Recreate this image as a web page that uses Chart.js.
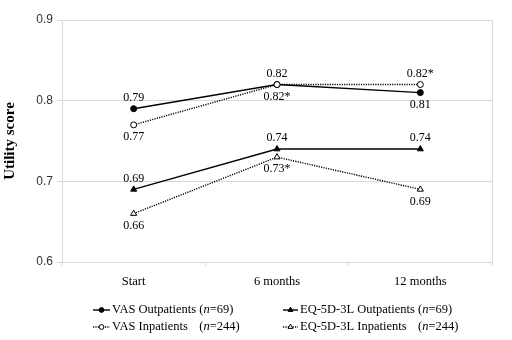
<!DOCTYPE html>
<html>
<head>
<meta charset="utf-8">
<script src="https://cdn.jsdelivr.net/npm/chart.js@4"></script>
<style>
  html, body { margin: 0; padding: 0; background: #fff; }
  #wrap { width: 512px; height: 340px; }
</style>
</head>
<body>
<div id="wrap"><canvas id="c" width="512" height="340"></canvas></div>
<script>
// Time points
const timepoints = ['Start', '6 months', '12 months'];

// Mean utility scores per group
const vasOutpatients = [0.79, 0.82, 0.81];
const vasInpatients = [0.77, 0.82, 0.82];
const eqOutpatients = [0.69, 0.74, 0.74];
const eqInpatients = [0.66, 0.73, 0.69];

// Value labels (asterisk marks a significant difference)
const vasOutLabels = ['0.79', '0.82', '0.81'];
const vasInLabels = ['0.77', '0.82*', '0.82*'];
const eqOutLabels = ['0.69', '0.74', '0.74'];
const eqInLabels = ['0.66', '0.73*', '0.69'];

// Where each value label sits relative to its point
const vasOutSides = ['above', 'above', 'below'];
const vasInSides = ['below', 'below', 'above'];
const eqOutSides = ['above', 'above', 'above'];
const eqInSides = ['below', 'below', 'below'];

// Y axis ticks
const yTicks = [0.6, 0.7, 0.8, 0.9];

// Legend entries: name and group size
const legendNames = ['VAS Outpatients', 'VAS Inpatients', 'EQ-5D-3L Outpatients', 'EQ-5D-3L Inpatients'];
const legendSizes = ['69', '244', '69', '244'];

const SERIF = '"Liberation Serif", "Times New Roman", serif';
const SANS = '"Liberation Sans", Arial, sans-serif';

function series(data, labels, sides, pointStyle, filled, dotted, radius) {
  return {
    data: data,
    valueLabels: labels,
    labelSides: sides,
    borderColor: '#000',
    borderWidth: 1.4,
    borderDash: dotted ? [1.2, 1.2] : [],
    pointStyle: pointStyle,
    pointRadius: radius,
    pointBorderWidth: 1,
    pointBorderColor: '#000',
    pointBackgroundColor: filled ? '#000' : '#fff',
    fill: false,
    tension: 0
  };
}

const datasets = [
  series(vasInpatients, vasInLabels, vasInSides, 'circle', false, true, 3),
  series(eqInpatients, eqInLabels, eqInSides, 'triangle', false, true, 3.5),
  series(vasOutpatients, vasOutLabels, vasOutSides, 'circle', true, false, 3),
  series(eqOutpatients, eqOutLabels, eqOutSides, 'triangle', true, false, 3.5)
];

// Value labels above / below each point
const valueLabels = {
  id: 'valueLabels',
  afterDatasetsDraw(chart) {
    const ctx = chart.ctx;
    ctx.save();
    ctx.font = '12px ' + SERIF;
    ctx.fillStyle = '#000';
    ctx.textAlign = 'center';
    ctx.textBaseline = 'middle';
    chart.data.datasets.forEach((ds, i) => {
      const meta = chart.getDatasetMeta(i);
      meta.data.forEach((pt, j) => {
        const dy = ds.labelSides[j] === 'above' ? -11 : 12;
        ctx.fillText(ds.valueLabels[j], pt.x, pt.y + dy);
      });
    });
    ctx.restore();
  }
};

// Right-hand frame line of the plot area
const frame = {
  id: 'frame',
  beforeDatasetsDraw(chart) {
    const a = chart.chartArea, ctx = chart.ctx;
    ctx.save();
    ctx.strokeStyle = '#d9d9d9';
    ctx.lineWidth = 1;
    ctx.beginPath();
    ctx.moveTo(Math.round(a.right) + 0.5, a.top);
    ctx.lineTo(Math.round(a.right) + 0.5, a.bottom);
    ctx.stroke();
    ctx.restore();
  }
};

// Two-column legend with italic "n"
const legendBox = {
  id: 'legendBox',
  afterDraw(chart) {
    const ctx = chart.ctx;
    const order = [2, 0, 3, 1]; // dataset index for each legend slot
    const cols = [{ x0: 93, x1: 110, tx: 112 }, { x0: 283, x1: 298, tx: 300 }];
    const rows = [310, 327];
    const upright = '12.5px ' + SERIF;
    const italic = 'italic 12.5px ' + SERIF;
    ctx.save();
    ctx.textBaseline = 'middle';
    ctx.fillStyle = '#000';
    for (let c = 0; c < 2; c++) {
      ctx.font = upright;
      const tab = ctx.measureText(legendNames[c * 2] + ' ').width;
      for (let r = 0; r < 2; r++) {
        const slot = c * 2 + r;
        const ds = chart.data.datasets[order[slot]];
        const col = cols[c], y = rows[r];
        ctx.save();
        ctx.strokeStyle = '#000';
        ctx.lineWidth = 1.4;
        ctx.setLineDash(ds.borderDash);
        ctx.beginPath();
        ctx.moveTo(col.x0, y);
        ctx.lineTo(col.x1, y);
        ctx.stroke();
        ctx.setLineDash([]);
        ctx.fillStyle = ds.pointBackgroundColor;
        ctx.strokeStyle = '#000';
        ctx.lineWidth = 1;
        Chart.helpers.drawPoint(ctx, { pointStyle: ds.pointStyle, radius: ds.pointRadius * 0.8, borderWidth: 1 }, (col.x0 + col.x1) / 2, y);
        ctx.restore();

        let x = col.tx;
        ctx.font = upright;
        ctx.fillText(legendNames[slot], x, y);
        x = col.tx + tab;
        ctx.fillText('(', x, y);
        x += ctx.measureText('(').width;
        ctx.font = italic;
        ctx.fillText('n', x, y);
        x += ctx.measureText('n').width;
        ctx.font = upright;
        ctx.fillText('=' + legendSizes[slot] + ')', x, y);
      }
    }
    ctx.restore();
  }
};

new Chart(document.getElementById('c'), {
  type: 'line',
  data: { labels: timepoints, datasets: datasets },
  options: {
    responsive: false,
    animation: false,
    events: [],
    layout: { padding: { top: 20, right: 20, left: 0, bottom: 38 } },
    plugins: {
      legend: { display: false },
      tooltip: { enabled: false }
    },
    scales: {
      x: {
        type: 'category',
        offset: true,
        afterFit(scale) { scale.height = 40; },
        grid: {
          offset: true,
          drawOnChartArea: false,
          drawTicks: true,
          tickLength: 4,
          color: '#d9d9d9'
        },
        border: { color: '#d9d9d9', width: 1 },
        ticks: {
          font: { family: SERIF, size: 12.5 },
          color: '#000',
          padding: 8
        }
      },
      y: {
        min: 0.6,
        max: 0.9,
        afterFit(scale) { scale.width = 62; },
        afterBuildTicks(scale) { scale.ticks = yTicks.map(v => ({ value: v })); },
        grid: {
          color: '#d9d9d9',
          tickLength: 5,
          drawTicks: true
        },
        border: { color: '#d9d9d9', width: 1 },
        ticks: {
          font: { family: SANS, size: 12 },
          color: '#333',
          padding: 4,
          callback: v => v.toFixed(1)
        },
        title: {
          display: true,
          text: 'Utility score',
          font: { family: SERIF, size: 15, weight: 'bold' },
          color: '#000',
          padding: { top: 1, bottom: 0 }
        }
      }
    }
  },
  plugins: [frame, valueLabels, legendBox]
});
</script>
</body>
</html>
